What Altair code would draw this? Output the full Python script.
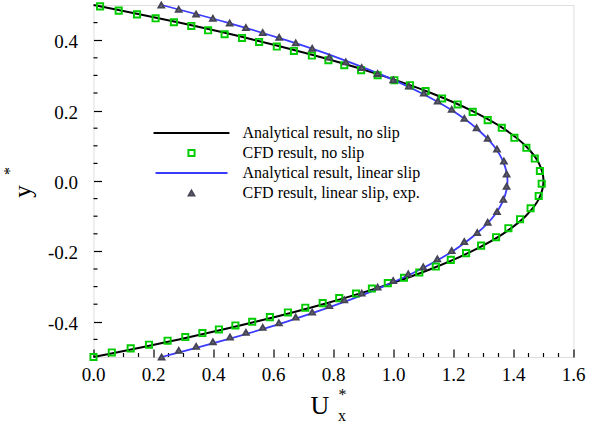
import altair as alt
import pandas as pd

FONT = "Liberation Serif"

# ---------------- data ----------------
line_y = [-0.5, -0.45, -0.4, -0.35, -0.3, -0.25, -0.2, -0.15, -0.1, -0.05, 0.0,
          0.05, 0.1, 0.15, 0.2, 0.25, 0.3, 0.35, 0.4, 0.45, 0.5]
noslip_U = [0.0, 0.285, 0.54, 0.765, 0.96, 1.125, 1.26, 1.365, 1.44, 1.485, 1.5,
            1.485, 1.44, 1.365, 1.26, 1.125, 0.96, 0.765, 0.54, 0.285, 0.0]
slip_U = [0.227, 0.446, 0.642, 0.815, 0.965, 1.092, 1.196, 1.276, 1.334, 1.368, 1.38,
          1.368, 1.334, 1.276, 1.196, 1.092, 0.965, 0.815, 0.642, 0.446, 0.227]

sq_U = [0.022, 0.084, 0.145, 0.207, 0.268, 0.326, 0.382, 0.437, 0.495, 0.552, 0.611,
        0.668, 0.728, 0.783, 0.836, 0.892, 0.947, 1.003, 1.055, 1.107, 1.162, 1.214,
        1.264, 1.314, 1.361, 1.403, 1.443, 1.471, 1.488, 1.494, 1.484, 1.457, 1.422,
        1.383, 1.342, 1.292, 1.242, 1.191, 1.141, 1.086, 1.035, 0.981, 0.928, 0.875,
        0.819, 0.764, 0.706, 0.648, 0.588, 0.529, 0.473, 0.418, 0.363, 0.306, 0.247,
        0.185, 0.124, 0.061, 0.0]
sq_y = [0.496, 0.484, 0.4735, 0.4623, 0.451, 0.4404, 0.4282, 0.4169, 0.4064, 0.3951,
        0.382, 0.3695, 0.3565, 0.3432, 0.329, 0.3148, 0.3006, 0.2864, 0.2722, 0.2552,
        0.2345, 0.2175, 0.1965, 0.173, 0.1512, 0.1228, 0.0944, 0.0638, 0.0284, -0.0077,
        -0.0425, -0.0774, -0.1086, -0.1341, -0.1597, -0.1835, -0.205, -0.224, -0.243,
        -0.26, -0.275, -0.29, -0.3054, -0.3196, -0.3327, -0.3469, -0.36, -0.3735,
        -0.3866, -0.40, -0.4104, -0.4217, -0.432, -0.4433, -0.4538, -0.4651, -0.4756,
        -0.487, -0.5]

tri_U = [0.226, 0.284, 0.342, 0.398, 0.454, 0.508, 0.564, 0.619, 0.674, 0.729, 0.786,
         0.841, 0.894, 0.947, 0.999, 1.051, 1.101, 1.147, 1.194, 1.236, 1.277, 1.314,
         1.345, 1.368, 1.377, 1.377, 1.366, 1.345, 1.314, 1.279, 1.236, 1.194, 1.146,
         1.099, 1.049, 0.999, 0.947, 0.894, 0.836, 0.786, 0.729, 0.674, 0.618, 0.564,
         0.508, 0.455, 0.398, 0.342, 0.284, 0.227]
tri_y = [0.5, 0.4878, 0.4745, 0.4623, 0.449, 0.436, 0.4217, 0.4084, 0.3922, 0.3772,
         0.352, 0.3383, 0.3225, 0.3054, 0.2873, 0.2694, 0.2496, 0.2269, 0.2033, 0.1778,
         0.1512, 0.1211, 0.0908, 0.0567, 0.0199, -0.015, -0.0519, -0.0871, -0.1171,
         -0.1466, -0.1721, -0.1977, -0.2212, -0.2439, -0.2638, -0.2828, -0.3015, -0.3185,
         -0.3375, -0.3537, -0.3724, -0.3866, -0.4027, -0.416, -0.4302, -0.4433, -0.4566,
         -0.47, -0.4813, -0.5]

labels = ["Analytical result, no slip", "CFD result, no slip",
          "Analytical result, linear slip", "CFD result, linear slip, exp."]
stroke_colors = ["#000000", "#00cc00", "#3b3bff", "#444455"]
fill_colors = ["transparent", "transparent", "transparent", "#666677"]
shapes = ["M-12,0L12,0", "square", "M-12,0L12,0", "triangle-up"]
sizes = [40, 34, 40, 48]
stroke_widths = [2, 1.8, 1.8, 0.8]

x_major = [0.0, 0.2, 0.4, 0.6, 0.8, 1.0, 1.2, 1.4, 1.6]
x_minor = [0.05, 0.1, 0.15, 0.25, 0.3, 0.35, 0.45, 0.5, 0.55, 0.65, 0.7, 0.75,
           0.85, 0.9, 0.95, 1.05, 1.1, 1.15, 1.25, 1.3, 1.35, 1.45, 1.5, 1.55]
y_major = [-0.4, -0.2, 0.0, 0.2, 0.4]
y_minor = [-0.45, -0.35, -0.3, -0.25, -0.15, -0.1, -0.05, 0.05, 0.1, 0.15,
           0.25, 0.3, 0.35, 0.45]
x_tick_labels = ["0.0", "0.2", "0.4", "0.6", "0.8", "1.0", "1.2", "1.4", "1.6"]
y_tick_labels = ["-0.4", "-0.2", "0.0", "0.2", "0.4"]

noslip_df = pd.DataFrame({"U": noslip_U, "y": line_y})
slip_df = pd.DataFrame({"U": slip_U, "y": line_y})
cfd_df = pd.DataFrame({
    "U": sq_U + tri_U,
    "y": sq_y + tri_y,
    "series": [labels[1]] * len(sq_U) + [labels[3]] * len(tri_U),
})
xminor_df = pd.DataFrame({"v": x_minor})
yminor_df = pd.DataFrame({"v": y_minor})
xlab_df = pd.DataFrame({"v": x_major, "lab": x_tick_labels})
ylab_df = pd.DataFrame({"v": y_major, "lab": y_tick_labels})

W, H = 480, 352

# ---------------- scales / axes ----------------
xs = alt.Scale(domain=[0, 1.6], nice=False, zero=False)
ys = alt.Scale(domain=[-0.5, 0.5], nice=False, zero=False)

x_axis = alt.Axis(
    orient="bottom", values=x_major, tickSize=8, offset=-8, domain=False, grid=False,
    tickColor="black", tickWidth=1.2, labels=False,
    title="U", titleFont=FONT, titleFontSize=26,
    titleFontWeight="normal", titleColor="black", titleX=226, titleY=64,
    titleAlign="center", titleBaseline="alphabetic",
)
y_axis = alt.Axis(
    orient="left", values=y_major, tickSize=8, offset=-8, domain=False, grid=False,
    tickColor="black", tickWidth=1.2, labels=False,
    title="y", titleFont=FONT, titleFontSize=25,
    titleFontWeight="normal", titleColor="black", titleX=-79.5, titleY=186,
    titleAlign="center", titleBaseline="middle", titleAngle=270,
)

legend = alt.Legend(
    orient="none", legendX=90, legendY=120, title=None, padding=0,
    labelFont=FONT, labelFontSize=16, labelColor="black", labelOffset=43,
    labelLimit=400, rowPadding=4, symbolOpacity=1,
)

line_noslip = alt.Chart(noslip_df).mark_line(
    interpolate="catmull-rom", strokeWidth=2, color="#000000"
).encode(
    x=alt.X("U:Q", scale=xs, axis=x_axis),
    y=alt.Y("y:Q", scale=ys, axis=y_axis),
    order=alt.Order("y:Q"),
)
line_slip = alt.Chart(slip_df).mark_line(
    interpolate="catmull-rom", strokeWidth=1.8, color="#3b3bff"
).encode(
    x=alt.X("U:Q", scale=xs, axis=x_axis),
    y=alt.Y("y:Q", scale=ys, axis=y_axis),
    order=alt.Order("y:Q"),
)

points = alt.Chart(cfd_df).mark_point(filled=True, opacity=1).encode(
    x=alt.X("U:Q", scale=xs, axis=x_axis),
    y=alt.Y("y:Q", scale=ys, axis=y_axis),
    stroke=alt.Stroke("series:N", scale=alt.Scale(domain=labels, range=stroke_colors), legend=legend),
    fill=alt.Fill("series:N", scale=alt.Scale(domain=labels, range=fill_colors), legend=legend),
    shape=alt.Shape("series:N", scale=alt.Scale(domain=labels, range=shapes), legend=legend),
    size=alt.Size("series:N", scale=alt.Scale(domain=labels, range=sizes), legend=legend),
    strokeWidth=alt.StrokeWidth("series:N", scale=alt.Scale(domain=labels, range=stroke_widths), legend=legend),
)

# minor tick marks (inward) on bottom and left edges
xminor_ticks = alt.Chart(xminor_df).mark_rule(color="black", strokeWidth=1.2).encode(
    x=alt.X("v:Q", scale=xs, axis=x_axis),
    y=alt.value(H), y2=alt.value(H - 4),
)
yminor_ticks = alt.Chart(yminor_df).mark_rule(color="black", strokeWidth=1.2).encode(
    y=alt.Y("v:Q", scale=ys, axis=y_axis),
    x=alt.value(0), x2=alt.value(4),
)

# tick labels (serif)
x_labels = alt.Chart(xlab_df).mark_text(
    font=FONT, fontSize=19, color="black", align="center", baseline="alphabetic"
).encode(
    x=alt.X("v:Q", scale=xs, axis=x_axis),
    y=alt.value(H + 23.5),
    text="lab:N",
)
y_labels = alt.Chart(ylab_df).mark_text(
    font=FONT, fontSize=19, color="black", align="right", baseline="middle", dy=2
).encode(
    y=alt.Y("v:Q", scale=ys, axis=y_axis),
    x=alt.value(-15.5),
    text="lab:N",
)

one = alt.Data(values=[{"k": 1}])
x_star = alt.Chart(one).mark_text(text="*", font=FONT, fontSize=16, color="black").encode(
    x=alt.value(249), y=alt.value(390))
x_sub = alt.Chart(one).mark_text(text="x", font=FONT, fontSize=16, color="black").encode(
    x=alt.value(248.5), y=alt.value(411))
y_star = alt.Chart(one).mark_text(text="*", font=FONT, fontSize=16, color="black", angle=270).encode(
    x=alt.value(-84), y=alt.value(166))

chart = alt.layer(
    xminor_ticks, yminor_ticks, line_noslip, line_slip, points,
    x_labels, y_labels, x_star, x_sub, y_star
).properties(
    width=W, height=H,
    autosize=alt.AutoSizeParams(type="none"),
    padding={"left": 93.5, "top": 5, "right": 16.5, "bottom": 64},
).configure_axis(
    titleFont=FONT, titleColor="black"
).configure_view(stroke="black", strokeWidth=1.5).configure(background="white")

chart.save("out.html", embed_options={"renderer": "svg", "actions": False})
